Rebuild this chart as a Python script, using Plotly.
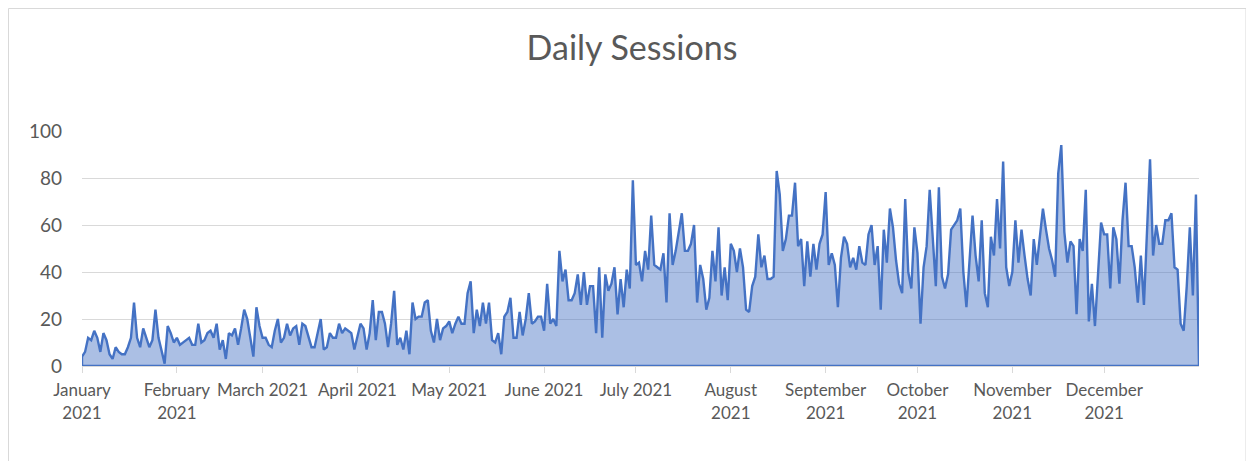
import pandas as pd
import plotly.graph_objects as go

# ---- data ----
jan = [4, 6, 12, 11, 15, 12, 6, 14, 11, 5, 3, 8, 6, 5, 5, 8, 12, 27, 12, 8, 16, 12, 8, 11, 24, 12, 7, 1, 17, 14, 10]
feb = [12, 9, 10, 11, 12, 9, 9, 18, 10, 11, 14, 15, 12, 18, 7, 11, 3, 14, 13, 16, 9, 16, 24, 20, 12, 4, 25, 17]
mar = [12, 12, 9, 8, 15, 20, 10, 12, 18, 13, 16, 17, 9, 18, 17, 13, 8, 8, 14, 20, 7, 8, 14, 12, 12, 18, 14, 16, 15, 14, 7]
apr = [12, 18, 16, 7, 14, 28, 11, 23, 23, 18, 8, 18, 32, 9, 12, 7, 15, 5, 27, 20, 21, 21, 27, 28, 15, 10, 20, 11, 16, 17]
may = [19, 14, 18, 21, 18, 18, 31, 36, 14, 24, 17, 27, 18, 27, 11, 10, 14, 5, 21, 23, 29, 12, 12, 23, 13, 20, 31, 18, 19, 21, 21]
jun = [15, 35, 18, 20, 17, 49, 36, 41, 28, 28, 31, 39, 26, 40, 26, 34, 34, 14, 42, 12, 39, 32, 35, 42, 22, 37, 25, 41, 33, 79]
jul = [43, 44, 36, 49, 41, 64, 43, 42, 41, 48, 27, 65, 43, 49, 57, 65, 49, 49, 52, 60, 27, 43, 37, 24, 29, 49, 36, 59, 30, 42, 28]
aug = [52, 49, 40, 50, 42, 24, 23, 34, 38, 56, 42, 47, 37, 37, 38, 83, 73, 49, 54, 64, 64, 78, 51, 54, 34, 53, 38, 52, 41, 52, 56]
sep = [74, 43, 48, 43, 25, 46, 55, 52, 42, 46, 41, 51, 44, 43, 56, 60, 43, 51, 24, 58, 44, 67, 59, 45, 35, 31, 71, 40, 33, 59]
oct_ = [48, 18, 42, 51, 75, 54, 34, 76, 38, 33, 39, 58, 60, 62, 67, 40, 25, 47, 64, 47, 36, 62, 31, 25, 55, 47, 71, 50, 87, 42, 34]
nov = [40, 62, 44, 58, 47, 37, 30, 54, 43, 55, 67, 58, 50, 45, 38, 82, 94, 57, 44, 53, 51, 22, 54, 49, 75, 19, 35, 17, 39, 61]
dec = [56, 56, 33, 59, 54, 35, 62, 78, 51, 51, 42, 27, 47, 26, 57, 88, 47, 60, 52, 52, 62, 62, 65, 42, 41, 18, 15, 34, 59, 30, 73]
jan_2022 = [0]

sessions = jan + feb + mar + apr + may + jun + jul + aug + sep + oct_ + nov + dec + jan_2022
dates = pd.date_range("2021-01-01", periods=len(sessions), freq="D")

month_starts = pd.date_range("2021-01-01", "2021-12-01", freq="MS")
month_labels = ["January<br>2021", "February<br>2021", "March 2021", "April 2021",
                "May 2021", "June 2021", "July 2021", "August<br>2021",
                "September<br>2021", "October<br>2021", "November<br>2021", "December<br>2021"]
y_ticks = [0, 20, 40, 60, 80, 100]

# closed outline (area with border all around, as in Excel)
xs = list(dates) + [dates[-1], dates[0], dates[0]]
ys = sessions + [0, 0, sessions[0]]

fig = go.Figure()
fig.add_trace(go.Scatter(
    x=xs, y=ys, mode="lines", fill="toself",
    fillcolor="rgba(68,114,196,0.45)",
    line=dict(color="#4472C4", width=2.4),
    hoverinfo="skip", showlegend=False,
))

FONT = "Lato, 'Open Sans', sans-serif"
L, T, PW, PH = 74, 123, 1117, 235
fig.update_layout(
    width=1254, height=461,
    margin=dict(l=L, r=1254 - L - PW, t=T, b=461 - T - PH),
    paper_bgcolor="white", plot_bgcolor="white",
    font=dict(family=FONT, color="#595959"),
    title=dict(text="Daily Sessions", x=(632 - 8) / 1254, xanchor="center",
               y=1 - 40 / 461, yanchor="middle", yref="container",
               font=dict(size=34, color="#595959", family=FONT)),
    showlegend=False,
)
fig.update_xaxes(
    type="date", range=[dates[0], dates[-1]],
    tickvals=list(month_starts), ticktext=month_labels,
    tickfont=dict(size=17, color="#595959"),
    showgrid=False, showline=True, linecolor="#d9d9d9", linewidth=1,
    ticks="outside", ticklen=6, tickcolor="#d9d9d9",
    zeroline=False, ticklabelstandoff=3,
)
fig.update_yaxes(
    range=[0, 100], tickvals=y_ticks,
    tickfont=dict(size=19, color="#595959"),
    showgrid=True, gridcolor="#d9d9d9", gridwidth=1,
    showline=False, zeroline=False, ticks="", ticklabelstandoff=19,
)
# chart-area border
fig.add_shape(type="rect", xref="paper", yref="paper",
              x0=(0.5 - L) / PW, x1=(1238 - L) / PW,
              y0=-0.6, y1=(T + PH - 0.5) / PH,
              line=dict(color="#d9d9d9", width=1), fillcolor="rgba(0,0,0,0)", layer="below")

fig.write_html("out.html")
